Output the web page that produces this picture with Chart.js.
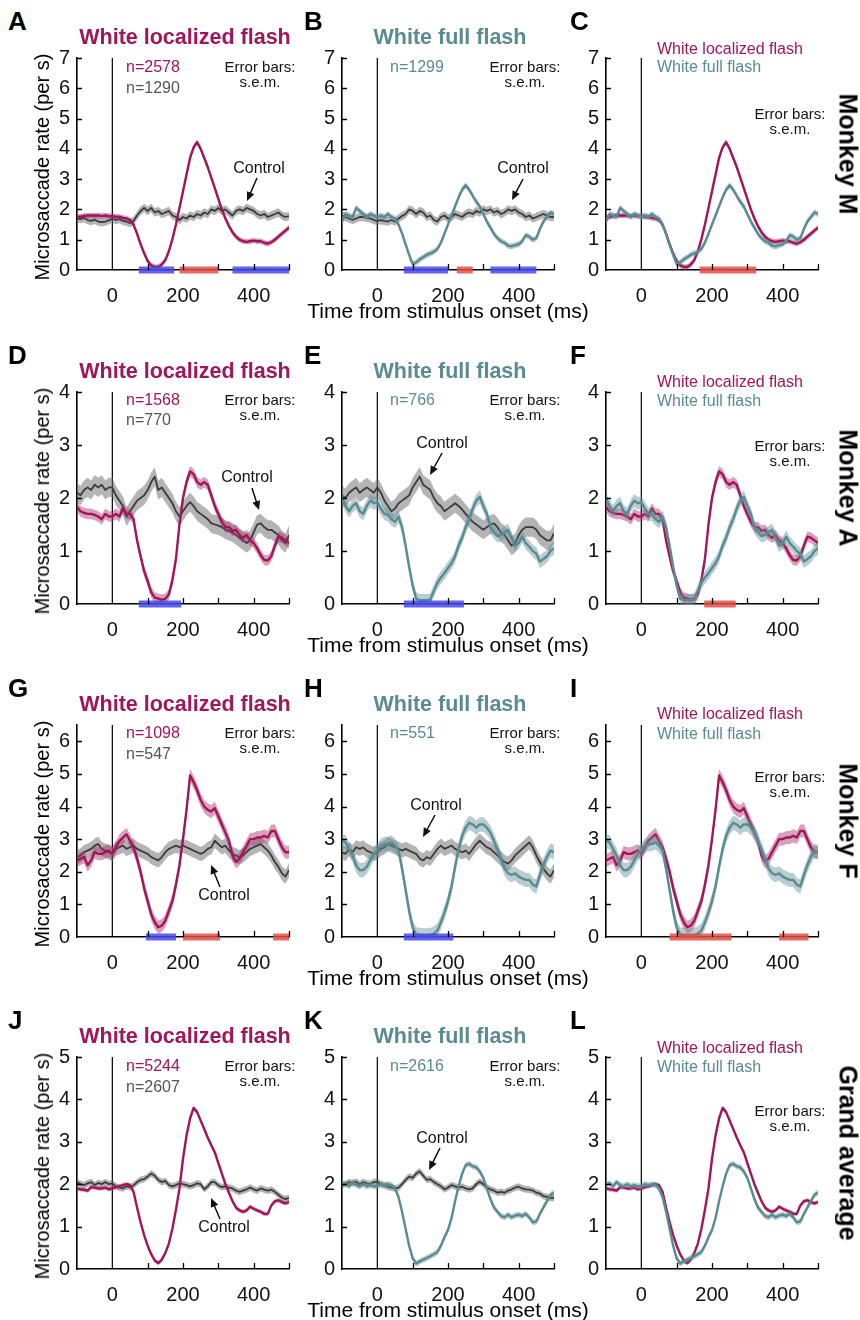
<!DOCTYPE html>
<html>
<head>
<meta charset="utf-8">
<script src="https://cdn.jsdelivr.net/npm/chart.js@4.4.1/dist/chart.umd.min.js"></script>
<style>
  body { margin: 0; background: #fff; width: 860px; height: 1320px; position: relative; overflow: hidden;
         font-family: 'Liberation Sans', Arial, Helvetica, sans-serif; }
  canvas { position: absolute; }
  .lbl { position: absolute; white-space: nowrap; line-height: 1; transform: translate(-50%, -50%); }
</style>
</head>
<body>
<script>
// time base (ms from stimulus onset)
const T = [-100,-90,-80,-70,-60,-50,-40,-30,-20,-10,
  0,10,20,30,40,50,60,70,80,90,
  100,110,120,130,140,150,160,170,180,190,
  200,210,220,230,240,250,260,270,280,290,
  300,310,320,330,340,350,360,370,380,390,
  400,410,420,430,440,450,460,470,480,490,
  500];

// Monkey M
const A_loc = [1.75,1.75,1.78,1.8,1.8,1.8,1.8,1.78,1.8,1.78,
  1.78,1.76,1.75,1.72,1.7,1.65,1.5,1.2,0.85,0.55,
  0.3,0.15,0.1,0.1,0.18,0.33,0.62,1.02,1.5,2.05,
  2.6,3.15,3.7,4.05,4.22,4.0,3.7,3.4,3.05,2.7,
  2.35,2.0,1.7,1.45,1.25,1.1,1.0,0.95,0.93,0.95,
  0.97,0.95,0.95,0.9,0.87,0.92,1.0,1.1,1.2,1.3,
  1.4];
const A_ctl = [1.7,1.68,1.72,1.65,1.62,1.66,1.6,1.58,1.6,1.64,
  1.7,1.65,1.68,1.62,1.6,1.55,1.62,1.8,1.95,2.05,
  1.95,2.05,1.9,1.95,1.85,1.9,1.95,1.8,1.75,1.65,
  1.75,1.7,1.8,1.75,1.85,1.8,1.9,1.85,2.0,1.95,
  2.05,1.95,2.0,1.9,1.8,1.95,2.0,1.95,2.05,2.0,
  1.95,1.85,1.8,1.85,1.75,1.8,1.85,1.9,1.8,1.75,
  1.78];
const B_full = [1.6,1.85,1.8,1.75,2.05,1.95,1.85,1.75,1.85,1.8,
  1.75,1.8,1.75,1.85,1.75,1.7,1.5,1.2,0.85,0.5,
  0.2,0.25,0.35,0.42,0.5,0.55,0.6,0.7,0.9,1.2,
  1.5,1.8,2.1,2.4,2.65,2.8,2.65,2.45,2.25,2.1,
  1.85,1.6,1.4,1.2,1.05,0.95,0.9,0.8,0.78,0.82,
  0.85,0.95,1.15,1.1,1.0,1.05,1.35,1.6,1.75,1.9,
  1.85];
const B_ctl = [1.8,1.75,1.7,1.65,1.7,1.75,1.75,1.72,1.7,1.65,
  1.62,1.65,1.62,1.6,1.65,1.6,1.7,1.78,1.85,2.0,
  1.95,1.85,1.95,1.9,1.75,1.8,1.65,1.6,1.75,1.8,
  1.7,1.75,1.85,1.8,1.75,1.85,1.9,1.85,1.95,1.9,
  2.0,1.95,2.0,1.9,1.95,1.85,1.9,2.0,1.95,2.0,
  1.9,1.85,1.75,1.8,1.7,1.75,1.8,1.85,1.8,1.75,
  1.75];

// Monkey A
const D_loc = [1.83,1.75,1.72,1.7,1.7,1.68,1.65,1.6,1.7,1.65,
  1.65,1.7,1.65,1.8,1.7,1.7,1.6,1.2,0.9,0.62,
  0.43,0.22,0.12,0.1,0.08,0.1,0.18,0.45,0.85,1.5,
  2.0,2.3,2.5,2.45,2.3,2.25,2.3,2.25,2.05,1.85,
  1.7,1.55,1.45,1.45,1.38,1.4,1.3,1.25,1.3,1.2,
  1.15,1.05,0.92,0.83,0.82,0.9,1.1,1.27,1.25,1.2,
  1.15];
const D_ctl = [2.1,2.05,2.15,2.2,2.15,2.25,2.2,2.25,2.15,2.2,
  2.2,2.05,1.95,1.85,1.65,1.75,1.85,1.95,2.0,2.05,
  2.15,2.3,2.4,2.15,2.2,2.1,2.0,1.9,1.75,1.65,
  1.75,1.85,1.92,1.85,1.75,1.7,1.65,1.6,1.52,1.5,
  1.48,1.45,1.4,1.38,1.35,1.3,1.25,1.2,1.15,1.2,
  1.35,1.5,1.52,1.45,1.4,1.4,1.35,1.3,1.2,1.15,
  1.3];
const E_full = [2.0,1.85,1.75,1.85,1.9,1.75,1.7,1.85,1.95,1.9,
  1.92,1.8,1.7,1.68,1.6,1.55,1.65,1.45,1.1,0.7,
  0.35,0.1,0.07,0.07,0.07,0.08,0.25,0.4,0.5,0.58,
  0.68,0.77,0.9,1.1,1.25,1.45,1.6,1.8,1.95,2.02,
  1.85,1.7,1.45,1.35,1.28,1.3,1.35,1.4,1.25,1.1,
  1.15,1.27,1.15,1.08,1.0,0.95,0.8,0.85,0.9,1.0,
  1.05];
const E_ctl = [2.05,2.0,2.1,2.15,2.2,2.1,2.15,2.2,2.15,2.1,
  2.2,2.1,1.95,1.85,1.75,1.8,1.9,1.95,2.0,2.05,
  2.2,2.3,2.4,2.25,2.2,2.15,2.0,1.9,1.85,1.75,
  1.8,1.85,1.9,1.85,1.78,1.7,1.62,1.55,1.5,1.45,
  1.4,1.45,1.5,1.52,1.45,1.35,1.3,1.2,1.1,1.15,
  1.3,1.4,1.45,1.45,1.45,1.4,1.3,1.25,1.2,1.2,
  1.33];

// Monkey F
const G_loc = [2.35,2.4,2.45,2.2,2.35,2.6,2.55,2.55,2.6,2.65,
  2.55,2.75,2.95,3.05,3.15,2.95,2.75,2.4,2.0,1.5,
  1.1,0.7,0.45,0.3,0.35,0.5,0.8,1.1,1.6,2.2,
  3.0,3.9,4.95,4.75,4.5,4.2,4.0,3.9,3.85,3.95,
  3.7,3.45,3.2,2.95,2.5,2.3,2.4,2.6,2.8,3.0,
  3.0,3.05,3.05,3.1,3.05,3.25,3.25,3.0,2.75,2.6,
  2.6];
const G_ctl = [2.45,2.5,2.6,2.65,2.7,2.8,2.85,2.7,2.65,2.6,
  2.55,2.7,2.75,2.8,2.7,2.75,2.8,2.7,2.65,2.6,
  2.55,2.45,2.4,2.35,2.45,2.6,2.7,2.75,2.8,2.75,
  2.8,2.75,2.7,2.65,2.6,2.55,2.6,2.7,2.75,2.95,
  2.85,2.75,2.8,2.65,2.55,2.5,2.45,2.5,2.6,2.7,
  2.75,2.8,2.85,2.75,2.65,2.5,2.3,2.15,1.95,1.85,
  2.05];
const H_full = [2.95,2.9,2.7,2.5,2.2,2.05,2.05,2.15,2.35,2.55,
  2.65,2.8,2.85,2.85,2.9,2.8,2.65,2.1,1.45,0.8,
  0.3,0.08,0.06,0.05,0.05,0.06,0.1,0.2,0.45,0.75,
  1.1,1.55,2.15,2.7,3.1,3.35,3.5,3.45,3.35,3.45,
  3.45,3.35,3.2,2.95,2.7,2.4,2.1,1.95,1.9,1.95,
  1.85,1.8,1.75,1.75,1.6,1.55,1.9,2.2,2.45,2.65,
  2.6];
const H_ctl = [2.6,2.55,2.7,2.6,2.75,2.7,2.75,2.65,2.6,2.55,
  2.6,2.7,2.75,2.85,2.8,2.75,2.7,2.65,2.7,2.65,
  2.6,2.55,2.4,2.35,2.45,2.4,2.55,2.7,2.8,2.7,
  2.75,2.8,2.7,2.65,2.6,2.65,2.55,2.7,2.85,2.95,
  2.85,2.75,2.7,2.6,2.5,2.4,2.3,2.25,2.35,2.5,
  2.6,2.7,2.8,2.9,2.75,2.5,2.3,2.1,1.95,1.85,
  2.05];

// Grand average
const J_loc = [1.9,1.88,1.87,1.85,1.93,1.92,1.9,1.9,1.92,1.88,
  1.9,1.93,1.95,1.98,2.0,1.98,1.82,1.45,1.1,0.8,
  0.55,0.35,0.2,0.14,0.22,0.38,0.6,0.95,1.4,1.9,
  2.6,3.15,3.55,3.8,3.7,3.5,3.3,3.1,2.92,2.75,
  2.5,2.25,2.0,1.8,1.6,1.45,1.38,1.35,1.38,1.47,
  1.42,1.38,1.35,1.3,1.3,1.5,1.6,1.62,1.58,1.55,
  1.58];
const J_ctl = [2.05,2.0,1.98,2.02,2.05,1.98,2.03,2.0,2.05,2.0,
  2.02,1.95,1.92,1.9,1.95,1.93,1.97,2.05,2.1,2.12,
  2.18,2.25,2.2,2.1,2.05,2.08,1.98,1.95,1.98,2.02,
  2.0,1.98,1.95,1.98,2.02,2.0,1.88,1.95,2.05,2.05,
  1.97,1.93,1.95,1.92,1.9,1.85,1.82,1.85,1.88,1.92,
  1.88,1.85,1.9,1.87,1.85,1.87,1.82,1.75,1.68,1.65,
  1.68];
const K_full = [2.0,2.02,1.95,2.05,1.98,1.95,2.0,1.95,1.98,1.95,
  1.95,2.0,1.98,2.0,1.98,1.9,1.7,1.35,0.95,0.55,
  0.25,0.13,0.18,0.22,0.26,0.3,0.35,0.4,0.55,0.75,
  0.92,1.2,1.6,1.95,2.25,2.45,2.48,2.42,2.4,2.3,
  2.15,1.9,1.65,1.45,1.35,1.25,1.22,1.28,1.22,1.26,
  1.28,1.25,1.3,1.22,1.1,1.12,1.3,1.45,1.6,1.75,
  1.8];
const K_ctl = [1.98,2.0,2.05,2.02,2.06,2.0,2.05,2.02,2.0,2.05,
  2.06,2.0,1.97,1.94,1.92,1.9,1.92,2.0,2.1,2.18,
  2.15,2.25,2.3,2.2,2.1,2.12,2.05,2.0,1.95,1.88,
  1.92,1.98,1.95,1.92,1.94,1.9,1.88,1.9,2.0,2.06,
  2.0,1.92,1.88,1.85,1.8,1.82,1.8,1.85,1.88,1.92,
  1.94,1.9,1.88,1.87,1.85,1.8,1.78,1.72,1.7,1.68,
  1.67];

// significance windows [start, end] in ms
const sigA_blue = [[75, 175], [340, 500]], sigA_red = [[190, 300]];
const sigB_blue = [[75, 200], [320, 450]], sigB_red = [[225, 270]];
const sigC_red = [[165, 325]];
const sigD_blue = [[75, 195]];
const sigE_blue = [[75, 245]];
const sigF_red = [[178, 267]];
const sigG_blue = [[95, 180]], sigG_red = [[200, 305], [455, 500]];
const sigH_blue = [[75, 215]];
const sigI_red = [[80, 255], [390, 473]];

const rowMax = [7, 4, 6.5, 5];
const rowNames = ['Monkey M', 'Monkey A', 'Monkey F', 'Grand average'];

const CRIMSON = '#a0165a', TEAL = '#598b91', NGRAY = '#555555';
const FONT = "'Liberation Sans', Arial, Helvetica, sans-serif";
const STYLE = {
  loc:  { line: CRIMSON, band: 'rgba(170,45,105,0.45)', w: 2.4 },
  full: { line: TEAL, band: 'rgba(95,145,152,0.45)', w: 2.4 },
  ctl:  { line: '#3b3b3b', band: 'rgba(105,105,105,0.5)', w: 1.8 }
};
const BLUE = 'rgba(72,72,236,0.85)', RED = 'rgba(226,80,70,0.85)';

const COLS = [77, 342, 606], ROWS = [58, 392, 725, 1057], SIZE = 212;
const YW = 50, PT = 30, PR = 26, XH = 40;

const nt = (s, color, x, y) => ({ s, color, x, y, align: 'left', size: 16 });
const EB = (x, y) => [{ s: 'Error bars:', color: '#111', x, y, align: 'center', size: 15 },
                      { s: 's.e.m.', color: '#111', x, y: y + 15, align: 'center', size: 15 }];
const LEG = (y1, y2) => [nt('White localized flash', CRIMSON, 51, y1), nt('White full flash', TEAL, 51, y2)];

const panels = [
  { L: 'A', r: 0, c: 0, series: [['ctl', A_ctl, 0.14], ['loc', A_loc, 0.09]], blue: sigA_blue, red: sigA_red,
    texts: [nt('n=2578', CRIMSON, 49, 10), nt('n=1290', NGRAY, 49, 31), ...EB(183, 10)],
    ctrl: { x: 182, y: 111, a: [180, 120, 170, 143] } },
  { L: 'B', r: 0, c: 1, series: [['ctl', B_ctl, 0.14], ['full', B_full, 0.1]], blue: sigB_blue, red: sigB_red,
    texts: [nt('n=1299', TEAL, 48, 10), ...EB(183, 10)],
    ctrl: { x: 181, y: 111, a: [181, 121, 170, 142] } },
  { L: 'C', r: 0, c: 2, series: [['loc', A_loc, 0.09], ['full', B_full, 0.1]], red: sigC_red,
    texts: [...LEG(-8, 10), ...EB(184, 57)] },
  { L: 'D', r: 1, c: 0, series: [['ctl', D_ctl, 0.18], ['loc', D_loc, 0.1]], blue: sigD_blue,
    texts: [nt('n=1568', CRIMSON, 49, 9), nt('n=770', NGRAY, 49, 29), ...EB(183, 9)],
    ctrl: { x: 170, y: 86, a: [175, 96, 182, 118] } },
  { L: 'E', r: 1, c: 1, series: [['ctl', E_ctl, 0.18], ['full', E_full, 0.12]], blue: sigE_blue,
    texts: [nt('n=766', TEAL, 48, 9), ...EB(183, 9)],
    ctrl: { x: 100, y: 52, a: [100, 61, 88, 83] } },
  { L: 'F', r: 1, c: 2, series: [['loc', D_loc, 0.1], ['full', E_full, 0.12]], red: sigF_red,
    texts: [...LEG(-9, 10), ...EB(184, 55)] },
  { L: 'G', r: 2, c: 0, series: [['ctl', G_ctl, 0.22], ['loc', G_loc, 0.2]], blue: sigG_blue, red: sigG_red,
    texts: [nt('n=1098', CRIMSON, 49, 9), nt('n=547', NGRAY, 49, 30), ...EB(183, 9)],
    ctrl: { x: 147, y: 171, a: [143, 162, 134, 140] } },
  { L: 'H', r: 2, c: 1, series: [['ctl', H_ctl, 0.22], ['full', H_full, 0.22]], blue: sigH_blue,
    texts: [nt('n=551', TEAL, 48, 9), ...EB(183, 9)],
    ctrl: { x: 94, y: 81, a: [93, 90, 81, 112] } },
  { L: 'I', r: 2, c: 2, series: [['loc', G_loc, 0.2], ['full', H_full, 0.22]], red: sigI_red,
    texts: [...LEG(-10, 10), ...EB(184, 53)] },
  { L: 'J', r: 3, c: 0, series: [['ctl', J_ctl, 0.08], ['loc', J_loc, 0.05]],
    texts: [nt('n=5244', CRIMSON, 49, 10), nt('n=2607', NGRAY, 49, 31), ...EB(183, 10)],
    ctrl: { x: 147, y: 171, a: [143, 162, 134, 141] } },
  { L: 'K', r: 3, c: 1, series: [['ctl', K_ctl, 0.08], ['full', K_full, 0.07]],
    texts: [nt('n=2616', TEAL, 48, 10), ...EB(183, 10)],
    ctrl: { x: 100, y: 82, a: [98, 91, 87, 113] } },
  { L: 'L', r: 3, c: 2, series: [['loc', J_loc, 0.05], ['full', K_full, 0.07]],
    texts: [...LEG(-8, 11), ...EB(184, 55)] }
];

function addLabel(str, x, y, css) {
  const d = document.createElement('div');
  d.className = 'lbl';
  d.textContent = str;
  d.style.left = x + 'px';
  d.style.top = y + 'px';
  Object.assign(d.style, css);
  document.body.appendChild(d);
}

function decorPlugin(p) {
  return {
    id: 'decor',
    afterDatasetsDraw(chart) {
      const { ctx, chartArea: a, scales: { x, y } } = chart;
      ctx.save();
      ctx.strokeStyle = '#000';
      ctx.lineWidth = 1.3;
      ctx.beginPath();
      for (let t = 100; t <= 500; t += 100) {
        const px = Math.round(x.getPixelForValue(t)) + 0.5;
        ctx.moveTo(px, a.bottom); ctx.lineTo(px, a.bottom - 6);
      }
      for (let v = 1; v <= Math.floor(rowMax[p.r]); v++) {
        const py = Math.round(y.getPixelForValue(v)) + 0.5;
        ctx.moveTo(a.left, py); ctx.lineTo(a.left + 5, py);
      }
      ctx.stroke();

      ctx.textBaseline = 'middle';
      for (const t of p.texts) {
        ctx.font = t.size + 'px ' + FONT;
        ctx.fillStyle = t.color;
        ctx.textAlign = t.align;
        ctx.fillText(t.s, a.left + t.x, a.top + t.y);
      }
      if (p.ctrl) {
        const c = p.ctrl;
        ctx.font = '16px ' + FONT;
        ctx.fillStyle = '#111';
        ctx.textAlign = 'center';
        ctx.fillText('Control', a.left + c.x, a.top + c.y);
        const [x1, y1, x2, y2] = c.a.map((v, i) => v + (i % 2 ? a.top : a.left));
        const ang = Math.atan2(y2 - y1, x2 - x1);
        ctx.lineWidth = 1.4;
        ctx.beginPath();
        ctx.moveTo(x1, y1);
        ctx.lineTo(x2 - 6 * Math.cos(ang), y2 - 6 * Math.sin(ang));
        ctx.stroke();
        ctx.beginPath();
        ctx.moveTo(x2, y2);
        ctx.lineTo(x2 - 9 * Math.cos(ang) + 4 * Math.sin(ang), y2 - 9 * Math.sin(ang) - 4 * Math.cos(ang));
        ctx.lineTo(x2 - 9 * Math.cos(ang) - 4 * Math.sin(ang), y2 - 9 * Math.sin(ang) + 4 * Math.cos(ang));
        ctx.closePath();
        ctx.fill();
      }
      ctx.restore();
    }
  };
}

panels.forEach(p => {
  const yMax = rowMax[p.r];
  const canvas = document.createElement('canvas');
  canvas.width = YW + SIZE + PR;
  canvas.height = PT + SIZE + XH;
  canvas.style.left = (COLS[p.c] - YW) + 'px';
  canvas.style.top = (ROWS[p.r] - PT) + 'px';
  document.body.appendChild(canvas);

  const datasets = [];
  let k = 0;
  const push = ds => { ds.order = 100 - k++; datasets.push(ds); };

  push({ data: [{ x: 0, y: 0 }, { x: 0, y: yMax }], borderColor: '#000', borderWidth: 1.2 });

  p.series.forEach(([kind, vals, sem]) => {
    const st = STYLE[kind];
    push({ data: T.map((t, i) => ({ x: t, y: vals[i] + sem })), borderWidth: 0, borderColor: 'transparent' });
    push({ data: T.map((t, i) => ({ x: t, y: Math.max(0, vals[i] - sem) })), borderWidth: 0,
           borderColor: 'transparent', backgroundColor: st.band, fill: '-1' });
    push({ data: T.map((t, i) => ({ x: t, y: vals[i] })), borderColor: st.line, borderWidth: st.w });
  });

  [[p.blue, BLUE], [p.red, RED]].forEach(([wins, col]) => {
    (wins || []).forEach(([s, e]) => {
      push({ data: [{ x: s, y: 0 }, { x: e, y: 0 }], borderColor: col, borderWidth: 7,
             borderCapStyle: 'butt', clip: false });
    });
  });

  const yTicks = [];
  for (let v = 0; v <= Math.floor(yMax); v++) yTicks.push({ value: v });

  new Chart(canvas, {
    type: 'line',
    data: { datasets },
    options: {
      responsive: false,
      animation: false,
      devicePixelRatio: 1,
      layout: { padding: { top: PT, right: PR, left: 0, bottom: 0 } },
      elements: { point: { radius: 0 }, line: { tension: 0, borderJoinStyle: 'round' } },
      plugins: { legend: { display: false }, tooltip: { enabled: false } },
      scales: {
        x: {
          type: 'linear', min: -100, max: 500,
          afterFit: s => { s.height = XH; },
          grid: { display: false, drawTicks: false },
          border: { display: true, color: '#000', width: 1.6 },
          ticks: { stepSize: 100, autoSkip: false, maxRotation: 0, padding: 14, color: '#111',
                   font: { size: 20, family: FONT },
                   callback: v => (v === 0 || v === 200 || v === 400) ? String(v) : '' }
        },
        y: {
          type: 'linear', min: 0, max: yMax,
          afterFit: s => { s.width = YW; },
          afterBuildTicks: s => { s.ticks = yTicks.map(t => ({ value: t.value })); },
          grid: { display: false, drawTicks: false },
          border: { display: true, color: '#000', width: 1.6 },
          ticks: { autoSkip: false, padding: 7, color: '#111',
                   font: { size: 20, family: FONT },
                   callback: v => String(v) }
        }
      }
    },
    plugins: [decorPlugin(p)]
  });

  // panel letter and title
  const letterX = [8, 304, 570][p.c];
  addLabel(p.L, letterX, ROWS[p.r] - 37, { transform: 'translate(0,-50%)', fontSize: '26px', fontWeight: 'bold' });
  if (p.c === 0) {
    addLabel('White localized flash', COLS[0] + 108, ROWS[p.r] - 20, { fontSize: '21.5px', fontWeight: 'bold', color: CRIMSON });
    addLabel('Microsaccade rate (per s)', 42, ROWS[p.r] + 109,
             { fontSize: '20px', transform: 'translate(-50%,-50%) rotate(-90deg)' });
  } else if (p.c === 1) {
    addLabel('White full flash', COLS[1] + 108, ROWS[p.r] - 20, { fontSize: '21.5px', fontWeight: 'bold', color: TEAL });
    addLabel('Time from stimulus onset (ms)', COLS[1] + 106, ROWS[p.r] + SIZE + 40, { fontSize: '21px' });
  } else {
    addLabel(rowNames[p.r], 848, ROWS[p.r] + 96,
             { fontSize: '25px', fontWeight: 'bold', transform: 'translate(-50%,-50%) rotate(90deg)' });
  }
});
</script>
</body>
</html>
